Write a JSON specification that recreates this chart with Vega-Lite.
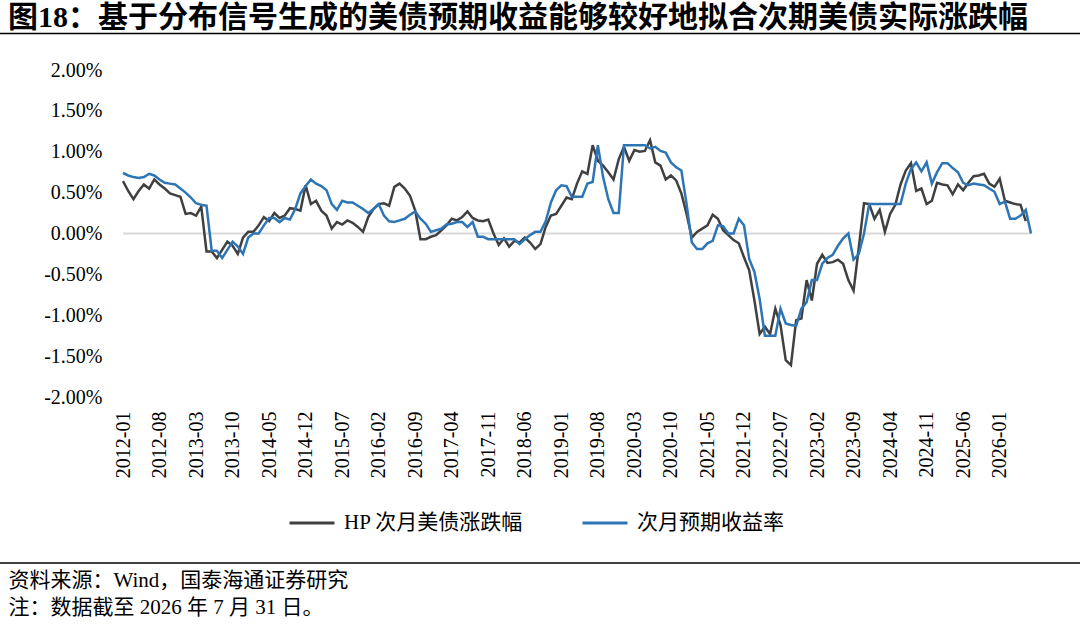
{
  "$schema": "https://vega.github.io/schema/vega-lite/v6.json",
  "width": 1080,
  "height": 327,
  "autosize": "none",
  "padding": {"left": 0, "top": 70, "right": 0, "bottom": 231},
  "background": "white",
  "config": {"view": {"stroke": null}},
  "title": {
    "text": "图18：基于分布信号生成的美债预期收益能够较好地拟合次期美债实际涨跌幅",
    "anchor": "start",
    "frame": "group",
    "dx": 8,
    "offset": 0,
    "font": "Liberation Serif, Noto Sans CJK SC",
    "fontSize": 30,
    "fontWeight": "bold",
    "color": "#000000"
  },
  "data": {
    "values": [
      {"m": "2012-01", "hp": 0.64, "exp": 0.74},
      {"m": "2012-02", "hp": 0.52, "exp": 0.71},
      {"m": "2012-03", "hp": 0.42, "exp": 0.69},
      {"m": "2012-04", "hp": 0.52, "exp": 0.68},
      {"m": "2012-05", "hp": 0.60, "exp": 0.69},
      {"m": "2012-06", "hp": 0.55, "exp": 0.73},
      {"m": "2012-07", "hp": 0.66, "exp": 0.71},
      {"m": "2012-08", "hp": 0.60, "exp": 0.66},
      {"m": "2012-09", "hp": 0.55, "exp": 0.62},
      {"m": "2012-10", "hp": 0.49, "exp": 0.61},
      {"m": "2012-11", "hp": 0.47, "exp": 0.60},
      {"m": "2012-12", "hp": 0.45, "exp": 0.55},
      {"m": "2013-01", "hp": 0.24, "exp": 0.50},
      {"m": "2013-02", "hp": 0.25, "exp": 0.44},
      {"m": "2013-03", "hp": 0.22, "exp": 0.37},
      {"m": "2013-04", "hp": 0.33, "exp": 0.35},
      {"m": "2013-05", "hp": -0.22, "exp": 0.34},
      {"m": "2013-06", "hp": -0.22, "exp": -0.21},
      {"m": "2013-07", "hp": -0.30, "exp": -0.21},
      {"m": "2013-08", "hp": -0.20, "exp": -0.30},
      {"m": "2013-09", "hp": -0.10, "exp": -0.20},
      {"m": "2013-10", "hp": -0.15, "exp": -0.10},
      {"m": "2013-11", "hp": -0.25, "exp": -0.16},
      {"m": "2013-12", "hp": -0.05, "exp": -0.25},
      {"m": "2014-01", "hp": 0.02, "exp": -0.05},
      {"m": "2014-02", "hp": 0.02, "exp": 0.00},
      {"m": "2014-03", "hp": 0.10, "exp": 0.00},
      {"m": "2014-04", "hp": 0.20, "exp": 0.10},
      {"m": "2014-05", "hp": 0.15, "exp": 0.19},
      {"m": "2014-06", "hp": 0.25, "exp": 0.19},
      {"m": "2014-07", "hp": 0.19, "exp": 0.14},
      {"m": "2014-08", "hp": 0.22, "exp": 0.19},
      {"m": "2014-09", "hp": 0.31, "exp": 0.17},
      {"m": "2014-10", "hp": 0.30, "exp": 0.30},
      {"m": "2014-11", "hp": 0.28, "exp": 0.49},
      {"m": "2014-12", "hp": 0.59, "exp": 0.58},
      {"m": "2015-01", "hp": 0.36, "exp": 0.66},
      {"m": "2015-02", "hp": 0.40, "exp": 0.61},
      {"m": "2015-03", "hp": 0.28, "exp": 0.58},
      {"m": "2015-04", "hp": 0.22, "exp": 0.53},
      {"m": "2015-05", "hp": 0.06, "exp": 0.36},
      {"m": "2015-06", "hp": 0.14, "exp": 0.29},
      {"m": "2015-07", "hp": 0.11, "exp": 0.40},
      {"m": "2015-08", "hp": 0.16, "exp": 0.38},
      {"m": "2015-09", "hp": 0.13, "exp": 0.38},
      {"m": "2015-10", "hp": 0.08, "exp": 0.34},
      {"m": "2015-11", "hp": 0.02, "exp": 0.30},
      {"m": "2015-12", "hp": 0.20, "exp": 0.25},
      {"m": "2016-01", "hp": 0.30, "exp": 0.30},
      {"m": "2016-02", "hp": 0.36, "exp": 0.36},
      {"m": "2016-03", "hp": 0.37, "exp": 0.22},
      {"m": "2016-04", "hp": 0.34, "exp": 0.15},
      {"m": "2016-05", "hp": 0.57, "exp": 0.14},
      {"m": "2016-06", "hp": 0.61, "exp": 0.16},
      {"m": "2016-07", "hp": 0.55, "exp": 0.18},
      {"m": "2016-08", "hp": 0.46, "exp": 0.23},
      {"m": "2016-09", "hp": 0.28, "exp": 0.27},
      {"m": "2016-10", "hp": -0.07, "exp": 0.18},
      {"m": "2016-11", "hp": -0.07, "exp": 0.12},
      {"m": "2016-12", "hp": -0.04, "exp": 0.02},
      {"m": "2017-01", "hp": -0.02, "exp": 0.04},
      {"m": "2017-02", "hp": 0.04, "exp": 0.06},
      {"m": "2017-03", "hp": 0.10, "exp": 0.11},
      {"m": "2017-04", "hp": 0.18, "exp": 0.12},
      {"m": "2017-05", "hp": 0.16, "exp": 0.14},
      {"m": "2017-06", "hp": 0.20, "exp": 0.14},
      {"m": "2017-07", "hp": 0.27, "exp": 0.08},
      {"m": "2017-08", "hp": 0.19, "exp": 0.14},
      {"m": "2017-09", "hp": 0.16, "exp": -0.04},
      {"m": "2017-10", "hp": 0.15, "exp": -0.04},
      {"m": "2017-11", "hp": 0.17, "exp": -0.07},
      {"m": "2017-12", "hp": 0.00, "exp": -0.07},
      {"m": "2018-01", "hp": -0.14, "exp": -0.07},
      {"m": "2018-02", "hp": -0.06, "exp": -0.07},
      {"m": "2018-03", "hp": -0.16, "exp": -0.07},
      {"m": "2018-04", "hp": -0.09, "exp": -0.07},
      {"m": "2018-05", "hp": -0.11, "exp": -0.13},
      {"m": "2018-06", "hp": -0.05, "exp": -0.07},
      {"m": "2018-07", "hp": -0.11, "exp": -0.02},
      {"m": "2018-08", "hp": -0.19, "exp": 0.02},
      {"m": "2018-09", "hp": -0.13, "exp": 0.02},
      {"m": "2018-10", "hp": 0.08, "exp": 0.15},
      {"m": "2018-11", "hp": 0.22, "exp": 0.38},
      {"m": "2018-12", "hp": 0.24, "exp": 0.53},
      {"m": "2019-01", "hp": 0.34, "exp": 0.59},
      {"m": "2019-02", "hp": 0.44, "exp": 0.58},
      {"m": "2019-03", "hp": 0.42, "exp": 0.45},
      {"m": "2019-04", "hp": 0.61, "exp": 0.45},
      {"m": "2019-05", "hp": 0.76, "exp": 0.45},
      {"m": "2019-06", "hp": 0.73, "exp": 0.61},
      {"m": "2019-07", "hp": 1.08, "exp": 0.63},
      {"m": "2019-08", "hp": 0.89, "exp": 1.08},
      {"m": "2019-09", "hp": 0.83, "exp": 0.69},
      {"m": "2019-10", "hp": 0.75, "exp": 0.42},
      {"m": "2019-11", "hp": 0.66, "exp": 0.25},
      {"m": "2019-12", "hp": 0.91, "exp": 0.25},
      {"m": "2020-01", "hp": 1.06, "exp": 1.08},
      {"m": "2020-02", "hp": 0.89, "exp": 1.08},
      {"m": "2020-03", "hp": 1.02, "exp": 1.08},
      {"m": "2020-04", "hp": 1.00, "exp": 1.08},
      {"m": "2020-05", "hp": 1.01, "exp": 1.08},
      {"m": "2020-06", "hp": 1.14, "exp": 1.04},
      {"m": "2020-07", "hp": 0.87, "exp": 1.06},
      {"m": "2020-08", "hp": 0.83, "exp": 1.01},
      {"m": "2020-09", "hp": 0.66, "exp": 0.99},
      {"m": "2020-10", "hp": 0.71, "exp": 0.87},
      {"m": "2020-11", "hp": 0.65, "exp": 0.81},
      {"m": "2020-12", "hp": 0.49, "exp": 0.77},
      {"m": "2021-01", "hp": 0.24, "exp": 0.36},
      {"m": "2021-02", "hp": -0.05, "exp": -0.11},
      {"m": "2021-03", "hp": 0.02, "exp": -0.19},
      {"m": "2021-04", "hp": 0.06, "exp": -0.19},
      {"m": "2021-05", "hp": 0.10, "exp": -0.12},
      {"m": "2021-06", "hp": 0.23, "exp": -0.09},
      {"m": "2021-07", "hp": 0.18, "exp": 0.10},
      {"m": "2021-08", "hp": 0.04, "exp": 0.09},
      {"m": "2021-09", "hp": -0.02, "exp": 0.00},
      {"m": "2021-10", "hp": -0.08, "exp": 0.00},
      {"m": "2021-11", "hp": -0.12, "exp": 0.18},
      {"m": "2021-12", "hp": -0.29, "exp": 0.10},
      {"m": "2022-01", "hp": -0.45, "exp": -0.31},
      {"m": "2022-02", "hp": -0.82, "exp": -0.47},
      {"m": "2022-03", "hp": -1.23, "exp": -0.80},
      {"m": "2022-04", "hp": -1.14, "exp": -1.25},
      {"m": "2022-05", "hp": -1.23, "exp": -1.25},
      {"m": "2022-06", "hp": -0.92, "exp": -1.25},
      {"m": "2022-07", "hp": -1.12, "exp": -0.92},
      {"m": "2022-08", "hp": -1.55, "exp": -1.10},
      {"m": "2022-09", "hp": -1.61, "exp": -1.12},
      {"m": "2022-10", "hp": -1.06, "exp": -1.13},
      {"m": "2022-11", "hp": -1.04, "exp": -0.92},
      {"m": "2022-12", "hp": -0.57, "exp": -0.84},
      {"m": "2023-01", "hp": -0.82, "exp": -0.57},
      {"m": "2023-02", "hp": -0.37, "exp": -0.57},
      {"m": "2023-03", "hp": -0.26, "exp": -0.37},
      {"m": "2023-04", "hp": -0.36, "exp": -0.30},
      {"m": "2023-05", "hp": -0.35, "exp": -0.26},
      {"m": "2023-06", "hp": -0.32, "exp": -0.15},
      {"m": "2023-07", "hp": -0.37, "exp": -0.06},
      {"m": "2023-08", "hp": -0.57, "exp": 0.00},
      {"m": "2023-09", "hp": -0.70, "exp": -0.32},
      {"m": "2023-10", "hp": -0.17, "exp": -0.25},
      {"m": "2023-11", "hp": 0.37, "exp": 0.00},
      {"m": "2023-12", "hp": 0.36, "exp": 0.36},
      {"m": "2024-01", "hp": 0.18, "exp": 0.36},
      {"m": "2024-02", "hp": 0.29, "exp": 0.36},
      {"m": "2024-03", "hp": 0.02, "exp": 0.36},
      {"m": "2024-04", "hp": 0.24, "exp": 0.36},
      {"m": "2024-05", "hp": 0.35, "exp": 0.36},
      {"m": "2024-06", "hp": 0.60, "exp": 0.36},
      {"m": "2024-07", "hp": 0.77, "exp": 0.61},
      {"m": "2024-08", "hp": 0.86, "exp": 0.79},
      {"m": "2024-09", "hp": 0.52, "exp": 0.87},
      {"m": "2024-10", "hp": 0.55, "exp": 0.76},
      {"m": "2024-11", "hp": 0.36, "exp": 0.87},
      {"m": "2024-12", "hp": 0.40, "exp": 0.61},
      {"m": "2025-01", "hp": 0.62, "exp": 0.75},
      {"m": "2025-02", "hp": 0.60, "exp": 0.86},
      {"m": "2025-03", "hp": 0.59, "exp": 0.86},
      {"m": "2025-04", "hp": 0.48, "exp": 0.80},
      {"m": "2025-05", "hp": 0.60, "exp": 0.75},
      {"m": "2025-06", "hp": 0.53, "exp": 0.62},
      {"m": "2025-07", "hp": 0.62, "exp": 0.59},
      {"m": "2025-08", "hp": 0.70, "exp": 0.61},
      {"m": "2025-09", "hp": 0.71, "exp": 0.60},
      {"m": "2025-10", "hp": 0.73, "exp": 0.59},
      {"m": "2025-11", "hp": 0.61, "exp": 0.55},
      {"m": "2025-12", "hp": 0.57, "exp": 0.51},
      {"m": "2026-01", "hp": 0.67, "exp": 0.36},
      {"m": "2026-02", "hp": 0.40, "exp": 0.39},
      {"m": "2026-03", "hp": 0.38, "exp": 0.18},
      {"m": "2026-04", "hp": 0.36, "exp": 0.18},
      {"m": "2026-05", "hp": 0.35, "exp": 0.22},
      {"m": "2026-06", "hp": 0.15, "exp": 0.29},
      {"m": "2026-07", "exp": 0.00}
    ]
  },
  "layer": [
    {
      "mark": {"type": "line", "color": "#d9d9d9", "strokeWidth": 2},
      "encoding": {
        "x": {
          "field": "m",
          "type": "ordinal",
          "sort": null,
          "scale": {"type": "point", "padding": 0, "range": [123, 1031]},
          "axis": {
            "values": ["2012-01", "2012-08", "2013-03", "2013-10", "2014-05", "2014-12", "2015-07", "2016-02", "2016-09", "2017-04", "2017-11", "2018-06", "2019-01", "2019-08", "2020-03", "2020-10", "2021-05", "2021-12", "2022-07", "2023-02", "2023-09", "2024-04", "2024-11", "2025-06", "2026-01"],
            "labelAngle": 270,
            "labelFont": "Liberation Serif",
            "labelFontSize": 20,
            "labelColor": "#000000",
            "labelPadding": 14,
            "domain": false,
            "ticks": false,
            "grid": false,
            "title": ["资料来源：Wind，国泰海通证券研究", "注：数据截至 2026 年 7 月 31 日。"],
            "titleX": 8,
            "titleY": 172,
            "titleAlign": "left",
            "titleBaseline": "top",
            "titleAnchor": "start",
            "titleFont": "Liberation Serif, Noto Sans CJK SC",
            "titleFontSize": 21,
            "titleFontWeight": "normal",
            "titleLineHeight": 27,
            "titleColor": "#000000"
          }
        },
        "y": {
          "datum": 0,
          "type": "quantitative",
          "scale": {"domain": [-2, 2], "nice": false, "zero": false},
          "axis": {
            "values": [-2, -1.5, -1, -0.5, 0, 0.5, 1, 1.5, 2],
            "labelExpr": "(datum.value < 0 ? '-' : '') + format(abs(datum.value), '.2f') + '%'",
            "labelFont": "Liberation Serif",
            "labelFontSize": 20,
            "labelColor": "#000000",
            "labelPadding": 6,
            "tickSize": 0,
            "ticks": false,
            "domain": false,
            "grid": false,
            "offset": -108,
            "title": null
          }
        }
      }
    },
    {
      "data": {"values": [{}]},
      "mark": {"type": "rule", "color": "#000000", "strokeWidth": 1.5},
      "encoding": {
        "y": {"datum": 2.446, "type": "quantitative"}
      }
    },
    {
      "data": {"values": [{}]},
      "mark": {"type": "rule", "color": "#000000", "strokeWidth": 1.5},
      "encoding": {
        "y": {"datum": -4.03, "type": "quantitative"}
      }
    },
    {
      "transform": [{"fold": ["hp", "exp"], "as": ["series", "value"]}],
      "mark": {"type": "line", "strokeWidth": 2.5},
      "encoding": {
        "x": {"field": "m", "type": "ordinal", "sort": null},
        "y": {"field": "value", "type": "quantitative"},
        "color": {
          "field": "series",
          "type": "nominal",
          "scale": {"domain": ["hp", "exp"], "range": ["#404040", "#2E75B6"]},
          "legend": {
            "orient": "none",
            "legendX": 288,
            "legendY": 429,
            "direction": "horizontal",
            "title": null,
            "symbolType": "stroke",
            "symbolSize": 2025,
            "symbolStrokeWidth": 3,
            "labelExpr": "datum.value == 'hp' ? 'HP 次月美债涨跌幅' : '次月预期收益率'",
            "labelFont": "Liberation Serif, Noto Sans CJK SC",
            "labelFontSize": 21,
            "labelColor": "#000000",
            "labelOffset": 8,
            "columnPadding": 52,
            "labelLimit": 400
          }
        }
      }
    }
  ]
}
